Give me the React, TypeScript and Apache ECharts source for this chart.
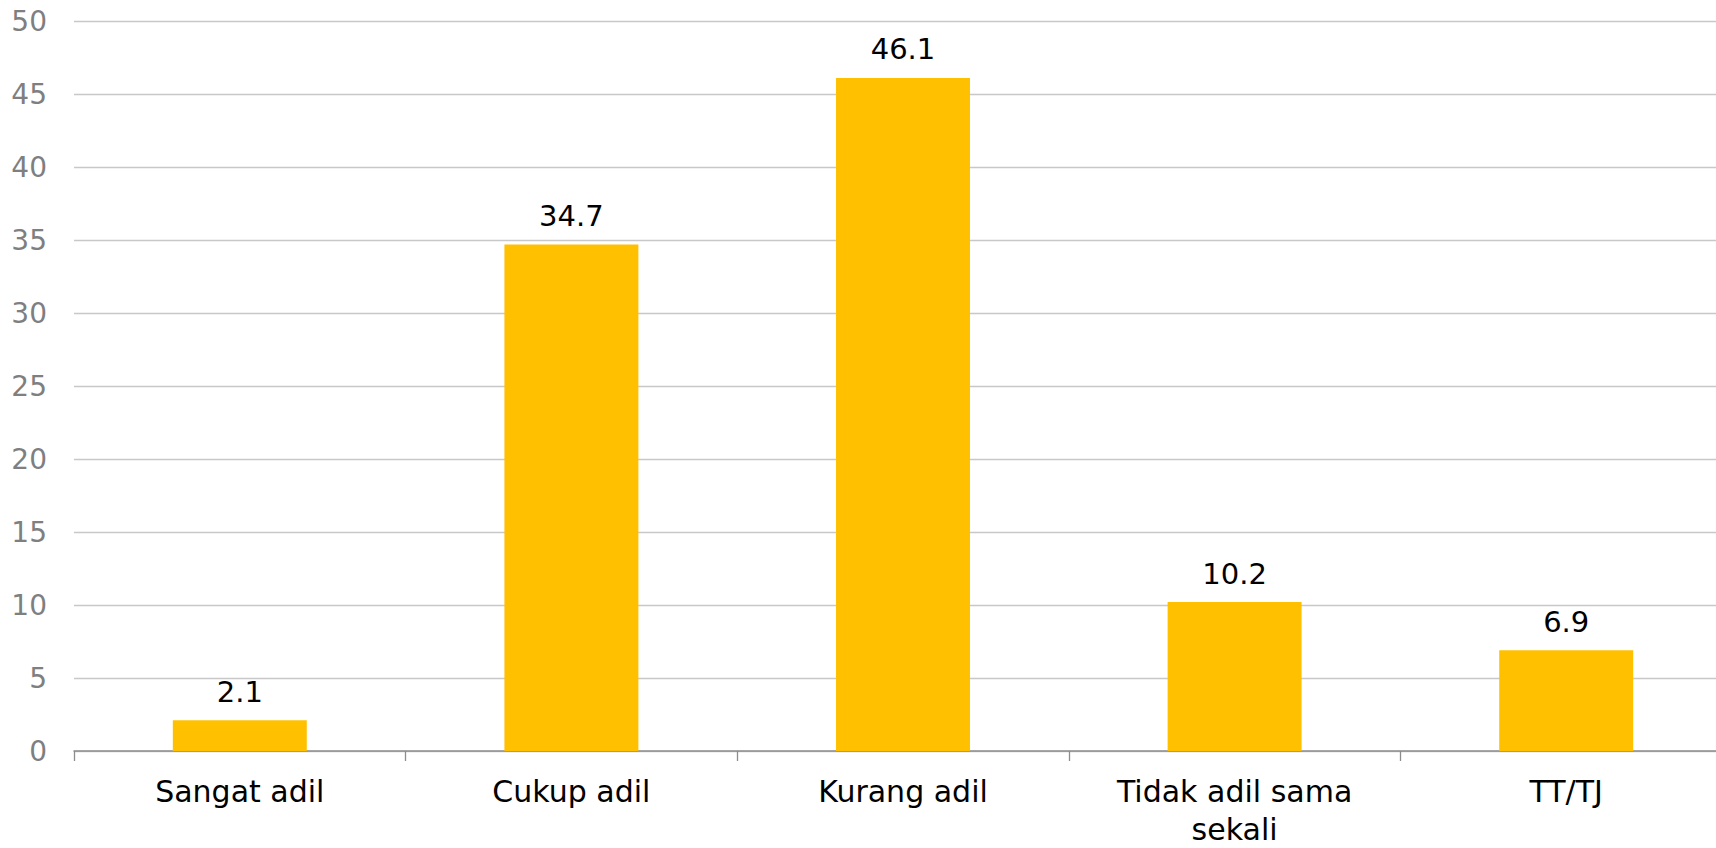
import React, { useEffect, useRef } from "react";
import * as echarts from "echarts";

const categories = ["Sangat adil", "Cukup adil", "Kurang adil", "Tidak adil sama\nsekali", "TT/TJ"];
const values = [2.1, 34.7, 46.1, 10.2, 6.9];
const yTicks = { min: 0, max: 50, interval: 5 };

const FONT = "'DejaVu Sans', 'Noto Sans', sans-serif";

export default function App() {
  const ref = useRef<HTMLDivElement>(null);
  useEffect(() => {
    if (!ref.current) return;
    const chart = echarts.init(ref.current, undefined, { renderer: "svg" });
    chart.setOption({
      animation: false,
      backgroundColor: "#ffffff",
      textStyle: { fontFamily: FONT },
      grid: { left: 74, right: 8, top: 21, bottom: 95, containLabel: false },
      xAxis: {
        type: "category",
        data: categories,
        axisLine: { lineStyle: { color: "#8c8c8c", width: 1.5 } },
        axisTick: { show: true, alignWithLabel: false, length: 10, lineStyle: { color: "#8c8c8c", width: 1.3 } },
        axisLabel: {
          color: "#000000",
          fontSize: 30,
          fontFamily: FONT,
          margin: 21,
          lineHeight: 38,
          interval: 0,
        },
      },
      yAxis: {
        type: "value",
        min: yTicks.min,
        max: yTicks.max,
        interval: yTicks.interval,
        axisLine: { show: false },
        axisTick: { show: false },
        splitLine: { lineStyle: { color: "#c8c8c8", width: 1.3 } },
        axisLabel: { color: "#7f7f7f", fontSize: 28, fontFamily: FONT, margin: 27 },
      },
      series: [
        {
          type: "bar",
          data: values,
          barWidth: "40.4%",
          itemStyle: { color: "#FFC000" },
          label: {
            show: true,
            position: "top",
            distance: 14,
            color: "#000000",
            fontSize: 29,
            fontFamily: FONT,
            formatter: (p: any) => p.value.toFixed(1),
          },
        },
      ],
    });
    return () => chart.dispose();
  }, []);
  return (
    <div style={{ position: "absolute", left: 0, top: 0, width: 1716, height: 848, overflow: "hidden" }}>
      <div ref={ref} style={{ width: 1740, height: 848 }} />
    </div>
  );
}
